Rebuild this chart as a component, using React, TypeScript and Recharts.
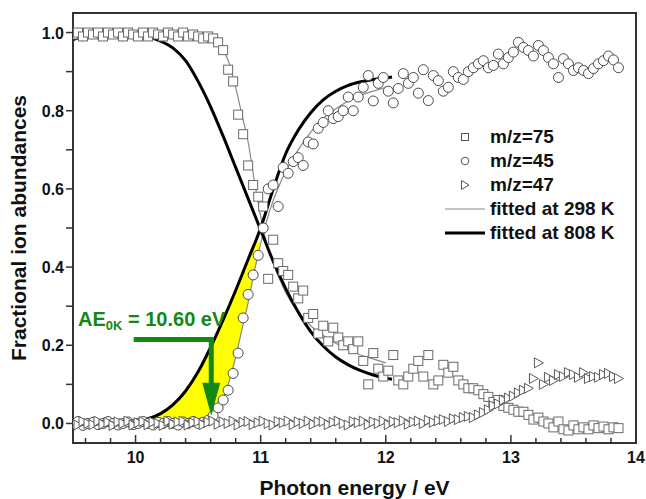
import React from 'react'
import {
  ComposedChart,
  Scatter,
  Line,
  Area,
  XAxis,
  YAxis,
  ReferenceLine,
  ReferenceDot,
  ReferenceArea,
  Legend,
} from 'recharts'

document.body.style.margin = '0'

const FONT = '"Liberation Sans", Arial, Helvetica, sans-serif'
const GREEN = '#128a12'

// photon energy of each scan point (eV)
const energy = [
  9.5, 9.54, 9.58, 9.62, 9.66, 9.7, 9.74, 9.78, 9.82, 9.86,
  9.9, 9.94, 9.98, 10.02, 10.06, 10.1, 10.14, 10.18, 10.22, 10.26,
  10.3, 10.34, 10.38, 10.42, 10.46, 10.5, 10.54, 10.58, 10.62, 10.66,
  10.7, 10.74, 10.78, 10.82, 10.86, 10.9, 10.94, 10.98, 11.02, 11.06,
  11.1, 11.14, 11.18, 11.22, 11.26, 11.3, 11.34, 11.38, 11.42, 11.46,
  11.5, 11.54, 11.58, 11.62, 11.66, 11.7, 11.74, 11.78, 11.82, 11.86,
  11.9, 11.94, 11.98, 12.02, 12.06, 12.1, 12.14, 12.18, 12.22, 12.26,
  12.3, 12.34, 12.38, 12.42, 12.46, 12.5, 12.54, 12.58, 12.62, 12.66,
  12.7, 12.74, 12.78, 12.82, 12.86, 12.9, 12.94, 12.98, 13.02, 13.06,
  13.1, 13.14, 13.18, 13.22, 13.26, 13.3, 13.34, 13.38, 13.42, 13.46,
  13.5, 13.54, 13.58, 13.62, 13.66, 13.7, 13.74, 13.78, 13.82, 13.86,
]

// m/z = 75 (squares)
const mz75 = [
  0.995, 1.0, 0.99, 1.0, 0.995, 1.0, 0.99, 1.0, 0.995, 1.0,
  0.99, 1.0, 0.995, 0.99, 1.0, 0.99, 1.0, 0.995, 0.99, 1.0,
  0.995, 0.99, 1.0, 0.99, 0.995, 0.99, 0.985, 0.99, 0.985, 0.975,
  0.955, 0.905, 0.875, 0.79, 0.74, 0.66, 0.61, 0.58, 0.555, 0.37,
  0.47, 0.41, 0.39, 0.38, 0.35, 0.32, 0.34, 0.27, 0.28, 0.23,
  0.25, 0.21, 0.245, 0.22, 0.2, 0.21, 0.19, 0.21, 0.16, 0.1,
  0.18, 0.14, 0.12, 0.135, 0.175, 0.11, 0.1, 0.12, 0.14, 0.16,
  0.12, 0.175, 0.1, 0.11, 0.15, 0.13, 0.145, 0.11, 0.1, 0.09,
  0.09, 0.085, 0.075, 0.068, 0.055, 0.06, 0.045, 0.04, 0.035, 0.03,
  0.03, 0.022, 0.01, 0.015, 0.005, 0.0, -0.01, 0.005, -0.015, -0.018,
  -0.005, -0.015, -0.01, -0.015, -0.005, -0.012, -0.008, -0.015, -0.01, -0.012,
]

// m/z = 45 (circles)
const mz45 = [
  0.0, 0.005, -0.005, 0.0, 0.003, -0.003, 0.0, 0.005, 0.0, -0.004,
  0.0, 0.004, -0.003, 0.0, 0.005, 0.0, -0.004, 0.003, 0.0, 0.005,
  0.0, -0.004, 0.004, 0.0, 0.005, 0.0, 0.003, 0.008, 0.02, 0.04,
  0.06, 0.085, 0.128, 0.18, 0.27, 0.33, 0.38, 0.43, 0.5, 0.6,
  0.61, 0.555, 0.655, 0.64, 0.67, 0.68, 0.66, 0.72, 0.715, 0.755,
  0.77, 0.8, 0.78, 0.785, 0.8, 0.835, 0.8, 0.835, 0.86, 0.89,
  0.825, 0.87, 0.885, 0.85, 0.82, 0.857, 0.895, 0.87, 0.885, 0.845,
  0.905, 0.826, 0.89, 0.877, 0.85, 0.86, 0.9, 0.885, 0.88, 0.9,
  0.91, 0.92, 0.928, 0.91, 0.916, 0.945, 0.92, 0.936, 0.95, 0.975,
  0.962, 0.954, 0.94, 0.967, 0.954, 0.936, 0.92, 0.885, 0.933, 0.92,
  0.903, 0.91, 0.903, 0.895, 0.908, 0.92, 0.928, 0.94, 0.93, 0.91,
]

// m/z = 47 (triangles)
const mz47 = [
  0.002, -0.004, 0.005, 0.0, -0.003, 0.006, -0.002, 0.003, -0.005, 0.004,
  0.0, 0.006, -0.004, 0.002, 0.005, -0.003, 0.004, 0.0, -0.005, 0.006,
  -0.002, 0.004, 0.006, -0.004, 0.002, 0.005, -0.003, 0.003, 0.006, -0.002,
  0.004, 0.0, 0.006, -0.004, 0.003, 0.005, -0.003, 0.002, 0.006, 0.0,
  -0.004, 0.005, 0.002, 0.006, -0.003, 0.004, 0.0, 0.006, -0.002, 0.004,
  0.005, -0.003, 0.003, 0.006, 0.0, -0.004, 0.005, 0.002, 0.006, -0.003,
  0.004, 0.0, 0.006, -0.003, 0.005, 0.002, 0.007, -0.002, 0.004, 0.006,
  0.0, 0.008, 0.003, 0.007, 0.01, 0.005, 0.012, 0.01, 0.015, 0.018,
  0.015, 0.022, 0.028, 0.035, 0.045, 0.05, 0.06, 0.065, 0.07, 0.078,
  0.085, 0.09, 0.115, 0.155, 0.1, 0.118, 0.11, 0.125, 0.12, 0.13,
  0.125, 0.118, 0.13, 0.115, 0.12, 0.118, 0.125, 0.128, 0.12, 0.115,
]

// fits at 298 K (thin grey)
const fitEnergy298 = [
  9.5, 10.0, 10.3, 10.45, 10.55, 10.6, 10.65, 10.7, 10.75, 10.8, 10.85, 10.9, 10.95,
  11.0, 11.05, 11.1, 11.15, 11.2, 11.3, 11.4, 11.5, 11.6, 11.7, 11.8, 11.9, 12.0,
]
const fit298Parent = [
  1.0, 1.0, 0.999, 0.997, 0.99, 0.985, 0.975, 0.955, 0.92, 0.86, 0.79, 0.72, 0.62,
  0.53, 0.46, 0.41, 0.37, 0.335, 0.285, 0.25, 0.225, 0.205, 0.19, 0.175, 0.165, 0.155,
]
const fit298Fragment = [
  0.0, 0.0, 0.0, 0.001, 0.005, 0.015, 0.035, 0.065, 0.11, 0.17, 0.24, 0.31, 0.39,
  0.46, 0.52, 0.57, 0.61, 0.645, 0.7, 0.745, 0.78, 0.805, 0.825, 0.84, 0.85, 0.86,
]

// fits at 808 K (thick black)
const fitEnergy808 = [
  9.5, 9.6, 9.7, 9.8, 9.9, 10.0, 10.1, 10.2, 10.3, 10.4, 10.5, 10.6, 10.7, 10.8,
  10.9, 11.0, 11.1, 11.2, 11.3, 11.4, 11.5, 11.6, 11.7, 11.8, 11.9, 12.0, 12.05,
]
const fit808Parent = [
  0.982, 0.992, 0.997, 0.999, 0.998, 0.995, 0.989, 0.978, 0.96, 0.928, 0.875, 0.81, 0.735, 0.655,
  0.575, 0.495, 0.415, 0.345, 0.285, 0.235, 0.198, 0.17, 0.15, 0.135, 0.124, 0.116, 0.113,
]
const fit808Fragment = [
  0.0, 0.0, 0.001, 0.002, 0.003, 0.006, 0.012, 0.025, 0.048, 0.083, 0.132, 0.195, 0.265, 0.34,
  0.42, 0.5, 0.6, 0.69, 0.75, 0.795, 0.828, 0.85, 0.865, 0.874, 0.88, 0.884, 0.886,
]

// yellow band between the two fragment fits
const fillEnergy = [10.05, 10.1, 10.2, 10.3, 10.4, 10.5, 10.6, 10.65, 10.7, 10.75, 10.8, 10.85, 10.9, 10.95, 10.99]
const fillLow = [0.006, 0.005, 0.005, 0.005, 0.005, 0.006, 0.015, 0.035, 0.065, 0.11, 0.17, 0.24, 0.31, 0.39, 0.455]
const fillHigh = [0.008, 0.012, 0.025, 0.048, 0.083, 0.132, 0.195, 0.23, 0.265, 0.3, 0.34, 0.38, 0.42, 0.455, 0.47]

const xTicks = [
  9.6, 9.8, 10, 10.2, 10.4, 10.6, 10.8, 11, 11.2, 11.4, 11.6, 11.8, 12,
  12.2, 12.4, 12.6, 12.8, 13, 13.2, 13.4, 13.6, 13.8, 14,
]
const xLabels = [10, 11, 12, 13, 14]
const yTicks = [0, 0.1, 0.2, 0.3, 0.4, 0.5, 0.6, 0.7, 0.8, 0.9, 1.0]
const yLabels = [0, 0.2, 0.4, 0.6, 0.8, 1.0]

const legendLabels = ['m/z=75', 'm/z=45', 'm/z=47', 'fitted at 298 K', 'fitted at 808 K']

const toPoints = (xs: number[], ys: number[]) => xs.map((x, i) => ({ x, y: ys[i] }))

const squareData = toPoints(energy, mz75)
const circleData = toPoints(energy, mz45)
const triangleData = toPoints(energy, mz47)
const fit298ParentData = toPoints(fitEnergy298, fit298Parent)
const fit298FragmentData = toPoints(fitEnergy298, fit298Fragment)
const fit808ParentData = toPoints(fitEnergy808, fit808Parent)
const fit808FragmentData = toPoints(fitEnergy808, fit808Fragment)
const fillData = fillEnergy.map((x, i) => ({ x, range: [fillLow[i], fillHigh[i]] }))

const isIn = (list: number[], v: number) => list.some((t) => Math.abs(t - v) < 1e-6)

const XTick = (props: any) => {
  const { x, y, payload } = props
  const major = isIn(xLabels, payload.value)
  return (
    <g>
      <line x1={x} y1={y} x2={x} y2={y - (major ? 8 : 5)} stroke="#333" strokeWidth={1.5} />
      {major && (
        <text x={x} y={y + 20} textAnchor="middle" fontFamily={FONT} fontWeight="bold" fontSize={16} fill="#111">
          {payload.value}
        </text>
      )}
    </g>
  )
}

const YTick = (props: any) => {
  const { x, y, payload } = props
  const major = isIn(yLabels, payload.value)
  return (
    <g>
      <line x1={x} y1={y} x2={x - 7} y2={y} stroke="#333" strokeWidth={1.5} />
      {major && (
        <text x={x - 9} y={y + 6} textAnchor="end" fontFamily={FONT} fontWeight="bold" fontSize={16} fill="#111">
          {payload.value.toFixed(1)}
        </text>
      )}
    </g>
  )
}

const XTitle = (props: any) => {
  const { x, y, width } = props.viewBox
  return (
    <text x={x + width / 2} y={y + 52} textAnchor="middle" fontFamily={FONT} fontWeight="bold" fontSize={21} fill="#111">
      Photon energy / eV
    </text>
  )
}

const YTitle = (props: any) => {
  const { y, height } = props.viewBox
  const cy = y + height / 2
  return (
    <text
      x={26}
      y={cy}
      transform={`rotate(-90 26 ${cy})`}
      textAnchor="middle"
      fontFamily={FONT}
      fontWeight="bold"
      fontSize={21}
      fill="#111"
    >
      Fractional ion abundances
    </text>
  )
}

const Square = (p: any) => (
  <rect x={p.cx - 4.5} y={p.cy - 4.5} width={9} height={9} fill="#fff" stroke="#6a6a6a" strokeWidth={1} />
)
const Circle = (p: any) => <circle cx={p.cx} cy={p.cy} r={5} fill="#fff" stroke="#4a4a4a" strokeWidth={1} />
const Triangle = (p: any) => (
  <path
    d={`M${p.cx - 4},${p.cy - 5}L${p.cx + 5},${p.cy}L${p.cx - 4},${p.cy + 5}Z`}
    fill="#fff"
    stroke="#5a5a5a"
    strokeWidth={1}
  />
)

const ArrowHead = (p: any) => (
  <path d={`M${p.cx - 9},${p.cy - 33}L${p.cx + 9},${p.cy - 33}L${p.cx},${p.cy}Z`} fill={GREEN} />
)

const AeLabel = (p: any) => (
  <text x={p.cx} y={p.cy} fontFamily={FONT} fontWeight="bold" fontSize={20} fill={GREEN}>
    <tspan>AE</tspan>
    <tspan fontSize={13} dy={4}>0K</tspan>
    <tspan dy={-4}> = 10.60 eV</tspan>
  </text>
)

const legendSymbol = (i: number) => {
  if (i === 0) return <rect x={16.5} y={8.5} width={7} height={7} fill="#fff" stroke="#555" />
  if (i === 1) return <circle cx={20} cy={12} r={3.8} fill="#fff" stroke="#555" />
  if (i === 2) return <path d="M16.5,7.5L24,12L16.5,16.5Z" fill="#fff" stroke="#555" />
  if (i === 3) return <line x1={0} y1={12} x2={40} y2={12} stroke="#888" strokeWidth={1.2} />
  return <line x1={0} y1={12} x2={40} y2={12} stroke="#000" strokeWidth={3} />
}

const LegendBox = () => (
  <div style={{ fontFamily: FONT, fontWeight: 'bold', fontSize: 19, color: '#111' }}>
    {legendLabels.map((label, i) => (
      <div key={label} style={{ display: 'flex', alignItems: 'center', height: 24 }}>
        <svg width={40} height={24}>{legendSymbol(i)}</svg>
        <span style={{ marginLeft: 5, whiteSpace: 'nowrap' }}>{label}</span>
      </div>
    ))}
  </div>
)

export default function App() {
  return (
    <ComposedChart width={646} height={499} margin={{ top: 13, right: 10, bottom: 0, left: 0 }}>
      <XAxis
        type="number"
        dataKey="x"
        domain={[9.5, 14]}
        allowDataOverflow
        ticks={xTicks}
        interval={0}
        tickSize={0}
        tickMargin={0}
        axisLine={false}
        tickLine={false}
        tick={<XTick />}
        height={56}
        label={XTitle}
      />
      <YAxis
        type="number"
        dataKey="y"
        domain={[-0.05, 1.05]}
        allowDataOverflow
        ticks={yTicks}
        interval={0}
        tickSize={0}
        tickMargin={0}
        axisLine={false}
        tickLine={false}
        tick={<YTick />}
        width={73}
        label={YTitle}
      />
      <Legend
        layout="horizontal"
        verticalAlign="middle"
        align="center"
        wrapperStyle={{ left: 445, top: 125, width: 200, height: 'auto' }}
        content={() => <LegendBox />}
      />
      <Area
        data={fillData}
        dataKey="range"
        type="linear"
        fill="#ffff00"
        fillOpacity={1}
        stroke="none"
        isAnimationActive={false}
      />
      <Scatter data={circleData} shape={Circle} isAnimationActive={false} />
      <Scatter data={squareData} shape={Square} isAnimationActive={false} />
      <Scatter data={triangleData} shape={Triangle} isAnimationActive={false} />
      <Line data={fit298ParentData} dataKey="y" type="monotone" stroke="#888" strokeWidth={1.2} dot={false} isAnimationActive={false} />
      <Line data={fit298FragmentData} dataKey="y" type="monotone" stroke="#888" strokeWidth={1.2} dot={false} isAnimationActive={false} />
      <Line data={fit808ParentData} dataKey="y" type="monotone" stroke="#000" strokeWidth={3} dot={false} isAnimationActive={false} />
      <Line data={fit808FragmentData} dataKey="y" type="monotone" stroke="#000" strokeWidth={3} dot={false} isAnimationActive={false} />
      <ReferenceLine segment={[{ x: 9.985, y: 0.215 }, { x: 10.625, y: 0.215 }]} stroke={GREEN} strokeWidth={5} />
      <ReferenceLine segment={[{ x: 10.605, y: 0.215 }, { x: 10.605, y: 0.1 }]} stroke={GREEN} strokeWidth={5} />
      <ReferenceDot x={10.605} y={0.02} shape={ArrowHead} />
      <ReferenceDot x={9.54} y={0.25} shape={AeLabel} />
      <ReferenceArea x1={9.5} x2={14} y1={-0.05} y2={1.05} fill="none" stroke="#333" strokeWidth={2} />
    </ComposedChart>
  )
}
